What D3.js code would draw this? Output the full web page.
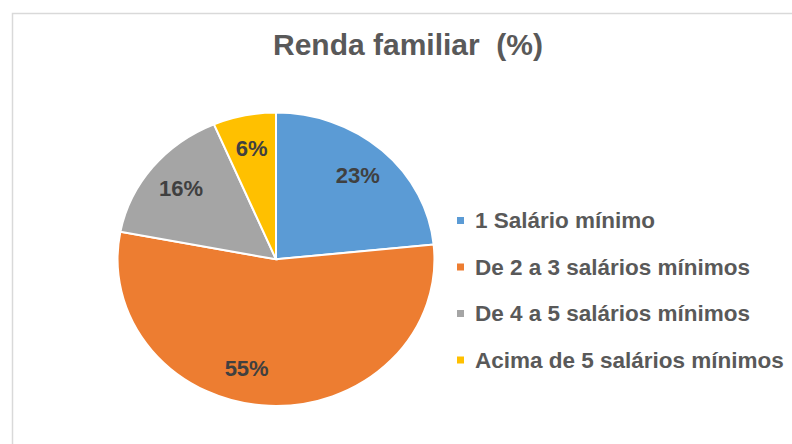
<!DOCTYPE html>
<html>
<head>
<meta charset="utf-8">
<script src="https://cdn.jsdelivr.net/npm/d3@7"></script>
<style>
  body { margin: 0; background: #fff; }
  text { font-family: "Liberation Sans", Arial, sans-serif; font-weight: bold; }
</style>
</head>
<body>
<div id="chart"></div>
<script>
// data
var categories = ["1 Salário mínimo", "De 2 a 3 salários mínimos", "De 4 a 5 salários mínimos", "Acima de 5 salários mínimos"];
var values = [23.4, 54.6, 15.6, 6.4];
var colors = ["#5b9bd5", "#ed7d31", "#a5a5a5", "#ffc000"];
var title = "Renda familiar  (%)";

var width = 792, height = 444;

var svg = d3.select("#chart")
  .append("svg")
    .attr("width", width)
    .attr("height", height);

// chart frame (runs off the right and bottom edges)
svg.append("rect")
  .attr("x", 12.5).attr("y", 13.5)
  .attr("width", 820).attr("height", 500)
  .attr("fill", "none")
  .attr("stroke", "#d9d9d9")
  .attr("stroke-width", 1.5);

svg.append("text")
  .attr("x", 408).attr("y", 55)
  .attr("text-anchor", "middle")
  .style("white-space", "pre")
  .attr("font-size", 30)
  .attr("fill", "#595959")
  .text(title);

// pie (picture is stretched a little horizontally)
var cx = 276, cy = 259.3, r = 146.7, sx = 1.08;

var pie = d3.pie().sort(null).value(d => d);
var arcs = pie(values);

var arc = d3.arc().innerRadius(0).outerRadius(r);
var labelArc = d3.arc().innerRadius(r * 0.77).outerRadius(r * 0.77);

var g = svg.append("g")
  .attr("transform", "translate(" + cx + "," + cy + ")");

g.append("g")
  .attr("transform", "scale(" + sx + ",1)")
  .selectAll("path")
  .data(arcs)
  .enter()
  .append("path")
    .attr("d", arc)
    .attr("fill", (d, i) => colors[i])
    .attr("stroke", "#fff")
    .attr("stroke-width", 2)
    .attr("vector-effect", "non-scaling-stroke");

// excel nudges the big slice label off its mid angle
var nudge = {1: [-24, -4]};

g.selectAll(".lbl")
  .data(arcs)
  .enter()
  .append("text")
    .attr("class", "lbl")
    .attr("x", (d, i) => labelArc.centroid(d)[0] * sx + (nudge[i] ? nudge[i][0] : 0))
    .attr("y", (d, i) => labelArc.centroid(d)[1] + (nudge[i] ? nudge[i][1] : 0))
    .attr("dy", "0.35em")
    .attr("text-anchor", "middle")
    .attr("font-size", 22)
    .attr("fill", "#404040")
    .text(d => Math.round(d.data) + "%");

// legend
var legend = svg.append("g")
  .attr("transform", "translate(457,220.5)");

var item = legend.selectAll(".item")
  .data(categories)
  .enter()
  .append("g")
    .attr("class", "item")
    .attr("transform", (d, i) => "translate(0," + (i * 46.5) + ")");

item.append("rect")
  .attr("x", 0).attr("y", -3.5)
  .attr("width", 7).attr("height", 7)
  .attr("fill", (d, i) => colors[i]);

item.append("text")
  .attr("x", 18)
  .attr("dy", "0.35em")
  .attr("font-size", 22.5)
  .attr("fill", "#595959")
  .text(d => d);
</script>
</body>
</html>
